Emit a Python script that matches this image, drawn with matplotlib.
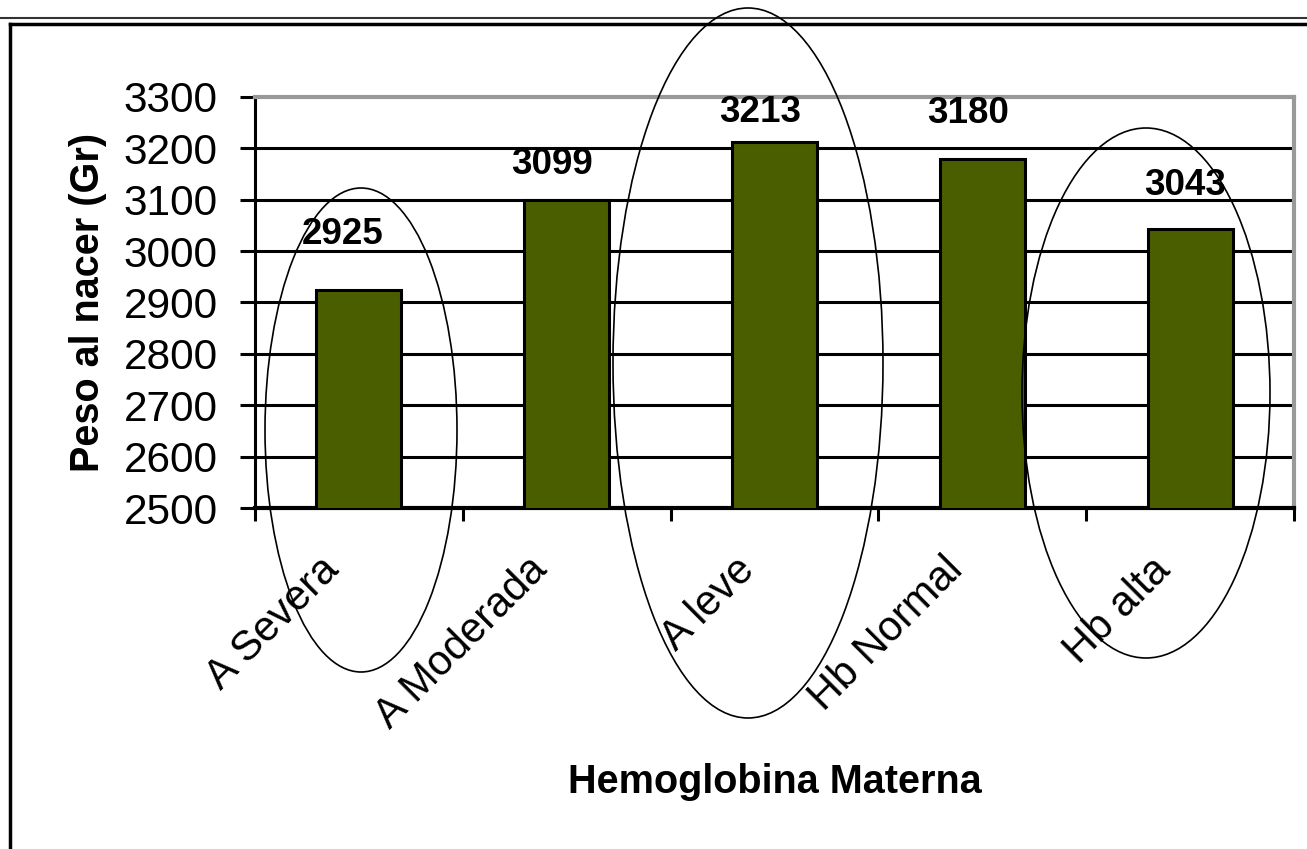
import matplotlib
matplotlib.use("Agg")
import matplotlib.pyplot as plt
from matplotlib.patches import Ellipse
from matplotlib.lines import Line2D
from matplotlib.transforms import ScaledTranslation
import numpy as np

categories = ["A Severa", "A Moderada", "A leve", "Hb Normal", "Hb alta"]
values = [2925, 3099, 3213, 3180, 3043]
yticks = [2500, 2600, 2700, 2800, 2900, 3000, 3100, 3200, 3300]

# label offsets (points) relative to bar top / centre - style only
label_dx = [-11.5, -10.8, -10.4, -10, -3.6]
label_dy = [40, 25.4, 20.7, 32.8, 31]

plt.rcParams['font.family'] = ['Liberation Sans', 'DejaVu Sans']

W, H = 1307, 849
fig = plt.figure(figsize=(W / 100, H / 100), dpi=100)
fig.patch.set_facecolor('white')

ax = fig.add_axes([255 / W, 1 - 508 / H, (1294 - 255) / W, (508 - 97) / H])

x = np.arange(len(categories))
bar_color = '#4a5e00'
ax.bar(x, values, width=0.41, color=bar_color, edgecolor='black', linewidth=2.2,
       zorder=3)

ax.set_ylim(2500, 3300)
ax.set_xlim(-0.5, len(categories) - 0.5)
ax.set_yticks(yticks)
ax.set_yticklabels([str(t) for t in yticks], fontsize=30.5)

for t in yticks[1:-1]:
    ax.axhline(t, color='black', linewidth=2.2, zorder=1)

# x ticks: labels at centres, tick marks at boundaries
ax.set_xticks(x)
ax.set_xticklabels(categories, rotation=45, ha='right', rotation_mode='anchor',
                   fontsize=30)
ax.tick_params(axis='x', which='major', length=0, pad=22)
shift = ScaledTranslation(-40 / 100, -11 / 100, fig.dpi_scale_trans)
for lab in ax.get_xticklabels():
    lab.set_transform(lab.get_transform() + shift)
ax.set_xticks(np.arange(len(categories) + 1) - 0.5, minor=True)
ax.tick_params(axis='x', which='minor', length=9, width=2.2, direction='out', color='black')
ax.tick_params(axis='y', length=11, width=2.2, direction='out', pad=16)

ax.spines['left'].set_color('black')
ax.spines['left'].set_linewidth(2.2)
ax.spines['bottom'].set_color('black')
ax.spines['bottom'].set_linewidth(3)
for s in ['top', 'right']:
    ax.spines[s].set_color('#999999')
    ax.spines[s].set_linewidth(3)

for xi, v, dx, dy in zip(x, values, label_dx, label_dy):
    ax.annotate(str(v), (xi, v), xytext=(dx, dy), textcoords='offset points',
                ha='center', va='center', fontsize=26.5, fontweight='bold', zorder=5)

ax.set_ylabel('Peso al nacer (Gr)', fontsize=28.5, fontweight='bold', labelpad=12)
ax.text(0.5, -0.667, 'Hemoglobina Materna', transform=ax.transAxes,
        ha='center', va='center', fontsize=28.5, fontweight='bold')

# highlight ellipses (figure pixel coordinates)
ell_specs = [((361, 430), 192, 484), ((748, 363), 270, 710), ((1146, 393), 248, 530)]
for (cx, cy), w, h in ell_specs:
    e = Ellipse((cx, H - cy), w, h, transform=None, fill=False,
                edgecolor='black', linewidth=1.2, zorder=10)
    fig.add_artist(e)

# outer frame lines
fig.add_artist(Line2D([0, 1], [1 - 18 / H, 1 - 18 / H], transform=fig.transFigure,
                      color='#333333', linewidth=1.5))
fig.add_artist(Line2D([10 / W, 1], [1 - 24 / H, 1 - 24 / H], transform=fig.transFigure,
                      color='black', linewidth=2.5))
fig.add_artist(Line2D([10 / W, 10 / W], [0, 1 - 24 / H], transform=fig.transFigure,
                      color='black', linewidth=2.5))

fig.savefig('out.png', dpi=100, facecolor='white')
